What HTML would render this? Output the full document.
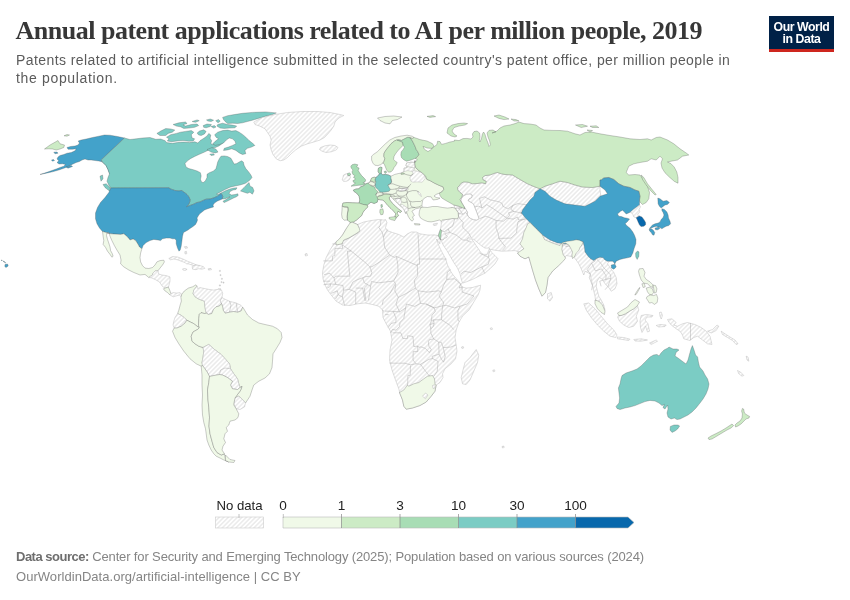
<!DOCTYPE html>
<html lang="en"><head><meta charset="utf-8"><title>Annual patent applications related to AI per million people, 2019</title>
<style>
html,body{margin:0;padding:0;background:#fff}
body{width:850px;height:600px;position:relative;overflow:hidden;font-family:"Liberation Sans",sans-serif}
.title{position:absolute;left:15.5px;top:16px;font-family:"Liberation Serif",serif;font-weight:700;font-size:26px;line-height:30px;color:#373737;white-space:nowrap;letter-spacing:-0.49px}
.sub{position:absolute;left:16px;top:52px;font-size:14px;line-height:17.5px;color:#5b5b5b;white-space:nowrap;letter-spacing:0.425px}
.logo{position:absolute;left:769px;top:16px;width:65px;height:33px;background:#002147;border-bottom:3px solid #ce261e;color:#fff;font-weight:700;font-size:12.3px;line-height:12px;text-align:center;letter-spacing:-0.45px}
.logo span{display:block}
.logo .a{padding-top:4.5px}
.foot{position:absolute;left:16px;font-size:13px;color:#858585;white-space:nowrap;line-height:16px}
.f1{letter-spacing:-0.14px}
.f1 b{letter-spacing:-0.5px}
.foot b{color:#6e6e6e;font-weight:700}
.lg{position:absolute;font-size:13.6px;color:#222;line-height:14px;white-space:nowrap;transform:translateX(-50%)}
svg{position:absolute;left:0;top:0}
</style></head><body>
<div class="title">Annual patent applications related to AI per million people, 2019</div>
<div class="sub">Patents related to artificial intelligence submitted in the selected country's patent office, per million people in<br><span style="letter-spacing:0.66px">the population.</span></div>
<div class="logo"><span class="a">Our World</span><span>in Data</span></div>
<svg width="850" height="600" viewBox="0 0 850 600">
<defs><pattern id="hatch" patternUnits="userSpaceOnUse" width="3.2" height="3.2" patternTransform="rotate(-45 2 2)"><rect width="3.2" height="3.2" fill="#fff"/><path d="M-1 1.6l6 0" stroke="#ccc" stroke-width="0.6"/></pattern></defs>
<g stroke="#555" stroke-opacity="0.75" stroke-width="0.4" stroke-linejoin="round">
<path fill="url(#hatch)" stroke="#adadad" stroke-opacity="1" d="M352 222L357.5 224.5L363.8 222L371.2 220.5L378.8 219.5L383.8 220L385.5 219.5L387 222.5L385.5 227.5L387 230.5L392.5 232.5L398.8 234.5L403.8 237L407.5 233.8L411.2 232L416.2 232L420 233.8L427.5 235L433.8 235L433.8 234.8L438.4 235.6L440.4 239.8L439.8 243.8L437.5 240.6L436.5 239L438.8 245.6L441.9 251.9L445.6 258.8L447.5 265L450.6 271.2L453.1 275L457.5 280L460.6 283.8L461.9 286.9L466.2 288.1L472.5 287.5L476.9 286.2L480.6 285.2L480 290L478.1 295L475 300L469 310L462.5 316.2L458.8 322.5L456.2 330L455 337.5L456.2 345L457 351.2L455.5 358.8L451.2 363.8L445 368.8L442.5 373.8L443 377.5L440 382.5L436.2 385L435 391.2L431.2 396.2L426.2 402L420 405.5L412.5 408L406.2 409.2L403.8 406.2L402.5 400L400 393.8L398.8 388.8L395.5 380L392 370L389.5 360L390 350L392 340L390.5 331.2L386.2 323.8L383 317.5L382.5 310L383.8 311.2L381.2 308.8L378.8 306.2L372.5 304.5L365 303L357.5 303.8L350 305.5L342.5 305L336.2 301.2L331.2 295L327.5 290L325 285L323 278.8L322.5 272.5L323.8 265L326.2 257.5L330 250L333.8 243.8L338.8 240L342.5 235L346.2 228.8L350 223.8Z"/>
<path fill="url(#hatch)" stroke="#adadad" stroke-opacity="1" d="M441.2 221.2L441.2 225L440.4 229.4L439.1 233.1L438.4 235.6L440.4 239.8L440.9 239.5L443.1 245L446.9 250.6L450.6 256.9L453.8 262.5L457.5 268.1L460 273.8L461.2 278.8L462.5 283.1L466.2 281.9L472.5 279.4L478.8 276.2L485 273.1L490 268.8L495 263.8L498.1 258.8L495 255.6L491.2 251.9L489.4 248.8L488.1 251.9L486.9 254.4L483.8 254.4L481.2 253.1L478.8 249.4L476.2 245.6L473.8 241.9L471.5 238.8L473.8 239.4L477.5 242.5L481.2 245.6L485 248.1L488.8 248.1L490.6 249.4L493.8 250L501.2 251.2L507.5 251L515 250.6L518.8 251.9L517.5 253L520 256.2L525 258.8L528.8 257L530 261.2L532.5 270L535.5 280L538.8 288.8L542 296.2L545.5 292.5L547 285L548 277.5L552.5 271.2L558.8 265.5L563.8 260L566.2 255.5L570 256.2L573.8 257L576.2 260L578.8 263.8L581.2 268.8L583.8 275L585 271.2L590 273.8L591.2 278.8L592.5 285L593.8 291.2L595 296.2L595.5 300L597.5 305L600 310L603.8 313.8L605 310L603.8 305L601.2 300L598.8 296.2L597.5 291.2L596.2 286.2L597 281.2L599.5 277.5L602.5 279.5L605 283.8L608.8 287.5L611.2 291.2L615 288.8L617 283.8L616.2 277.5L613.8 272.5L610 267.5L607.5 263.8L610 260L600 190L600 186.2L592.5 187.5L582.5 187L575 185L567.5 182.5L560 181.2L552.5 183.8L545 186.2L540 188.8L535 187L527.5 183.8L520 179.5L512.5 175L505 174.5L501.2 173.8L497.5 172.5L495 173.1L490 175L485 175.6L482.5 177.5L483.1 180L486.2 181.2L485.6 183.8L481.9 182.8L477.5 183.5L472.5 183.8L468.1 182.2L463.8 181.9L461.2 183.1L459.4 185.6L457.5 187.5L457.8 190L460 192.5L462.5 194.4L465 208.5L462.5 207.8L458.1 206L453.8 205L455 208.1L458.1 212.5L458.5 216.9L457.5 218.8L452.5 218.5L447.5 219.4L442.5 220L441.2 221.2Z"/>
</g>
<g stroke="#a6a6a6" stroke-width="0.45" fill="none" stroke-linejoin="round">
<path d="M381 219.6L380.3 225.4L378.8 227.5L382.2 232.3L383.5 237.3L385.2 233.4L387.7 229.4"/>
<path d="M383.5 237.3L384.6 247.1L389.6 255L394.6 257.4L396.4 256.4L417.3 265.6L417.3 264.3L419.6 264.3L419.4 259"/>
<path d="M418 233.6L419.4 259L446.6 259"/>
<path d="M389.6 255L379.4 262.2L371.9 266.7L369.8 266.9L364.9 262.2L351.3 251.1L342.5 245"/>
<path d="M342.6 243.9L342.6 241.3L354.2 235.2L359.3 231.8L357.4 224.4"/>
<path d="M342.6 243.9L332.4 243.9"/>
<path d="M342.5 245L342.5 248.4L335 248.4L334.8 255.3L332.5 256.4L332.4 260.9L323.3 260.9"/>
<path d="M351.3 251.1L347.4 251.1L349.5 273.6L350 276.2L335.6 276.2L334 278.1L329.9 273.3L324.1 274.6"/>
<path d="M369.8 266.9L371.9 272.5L370.5 276.2L365.2 276.7L362.7 277.8L357.6 279.6L352.9 282L349.4 289.4L343.6 290.2L342.9 285.5L335.8 284.4L334 278.1"/>
<path d="M396.4 256.4L397.8 264.3L398 272.8L393.7 281L385.4 282L378.4 282.8L371.5 281.5L370.6 286.3L367.8 284.7L364.3 282.8L362.7 277.8"/>
<path d="M417.3 265.6L417.7 275.7L414.3 280.2L415.4 288.1L406.4 293.4L398.3 297.4L394.8 290.8L395.8 284.1L393.7 281"/>
<path d="M395.1 284.1L390.1 293.4L383.2 300L382.3 304.8"/>
<path d="M415.4 288.1L418 290.8L427.3 292.1L438.9 290.8L441.3 292.1L443.4 285.5L446.7 279.4L447.3 272.2L450.8 269.6"/>
<path d="M446.7 279.4L454.8 278.8L460.5 284.1L462.1 283.6"/>
<path d="M462 286.8L462.2 292.1L474 296L467.2 304L460.2 306.1L454.4 307.9L446.2 305.3L442.7 305.8L441.6 314.6L441.6 319.8L450.2 325.4L453.7 329.6"/>
<path d="M460.2 306.1L457.9 310.6L458 319.8L459.1 321.7"/>
<path d="M441.3 292.1L439 296L443.8 302.9L442.7 305.8"/>
<path d="M418 290.8L420.5 303.4"/>
<path d="M426.1 304L434.1 307.9L442.7 305.8"/>
<path d="M390.6 332.8L392.5 329.4L396 330.2L399.5 326.5L400 322.5L403.8 318.5L405.6 307.9L406.5 304L414.7 306.4L420.5 303.4L426.1 304L434.1 307.9L435.3 311.6L432 315.1L431.3 320.9L429.9 324.6L430.8 328.8L430.8 333.1L433.7 338.9L429.5 339.7L428.3 341.8L428.9 346.3L431.3 349.5L429.4 352.6L425.3 348.4L421 346.8L418.9 347.4L417.7 346L413.8 346.6L413 336.5L407.6 335.7L407.4 338.4L402.9 338.6L400.9 332.8L392.5 332.8"/>
<path d="M389.4 363L394.5 363.2L404.8 363.2L410.5 364.8L416.1 363.8L413 360L413.2 351.6L417.8 351.6L417.7 346"/>
<path d="M410.5 365.6L410.2 375.4L407.9 375.4L407.7 382.8L407.3 392.3L400.5 392.6L399.4 392.8"/>
<path d="M420.5 364.3L425.7 371.4L429.4 375.9"/>
<path d="M416.1 363.8L420.5 364.3L429 359.3L432.5 358.5L438.1 361.4L437.2 371.4L433.7 376.4"/>
<path d="M432.5 358.5L432.1 356.3L439.1 354.2L438.7 342.1L433.7 338.9"/>
<path d="M438.7 342.1L441.3 342.3L443.2 347.6L445.2 356.6L443.6 362.2L441.6 359.5L439.1 354.2"/>
<path d="M443.2 347.6L450.5 347.1L456.1 345"/>
<path d="M441.6 319.8L433.4 319.8L434.1 323.3L433.4 326.5L430.8 328.8"/>
<path d="M433.4 319.8L431.3 320.9"/>
<path d="M434.1 323.3L429.9 324.6"/>
<path d="M385.1 311.1L393.3 311.4L399.6 311.9L405.6 307.9"/>
<path d="M398.3 297.4L396 304L399.6 311.9"/>
<path d="M393.3 311.4L396.1 318.5L395.8 322.5L391.4 323.3L388.1 327.5"/>
<path d="M385.1 314.6L388.6 314.6"/>
<path d="M355.7 304L355.7 292.1L349.4 289.4"/>
<path d="M365 301.1L362.7 288.1L355.7 288.1"/>
<path d="M368.5 300.3L370.6 286.3"/>
<path d="M365.9 300.8L364.3 288.1L367.8 284.7"/>
<path d="M344.7 305.6L342.4 297.1L343.6 290.2"/>
<path d="M335.4 299L338.2 294.7L342.4 297.1"/>
<path d="M331.2 293.4L337.3 290.8L338.2 294.7"/>
<path d="M327.4 288.1L330.4 286.3L330.4 283.9L335.8 284.4"/>
<path d="M323.5 284.7L330.4 283.9"/>
<path d="M323.3 281.2L330.2 281.2"/>
<path d="M462.5 286.8L459.3 288.1L460.5 284.1"/>
<path d="M454.7 219.1L452.7 226.2L448.2 228.9L449.5 232.3L444.7 233.9L447.3 236.5L446.3 237.9L444.5 238.1L443.1 240L440.8 239.4"/>
<path d="M448.2 228.9L444.1 231.8L441.7 230.7"/>
<path d="M449.5 232.3L456 234.9L462.7 240L466.8 240.2L469.6 241.8L471.2 241.8"/>
<path d="M466.8 240.2L468.1 237.9L469.9 237.9"/>
<path d="M459.9 218.8L463.2 222.5L462.6 227.3L468.7 233.1L471.2 237.9"/>
<path d="M459.9 218.8L457.2 213L462.8 214.3L465.7 212.5L468.3 215.7"/>
<path d="M450.8 207.5L455.3 208.6L458.4 208L461.3 206.7L461.5 208.6L458.4 208"/>
<path d="M461.3 206.7L464.7 208.3L465.8 206.7"/>
<path d="M455.3 208.6L456.2 211.2L457.2 213"/>
<path d="M458.4 208L459.9 209.9L462.8 214.3"/>
<path d="M479.7 218.6L485.9 216.2L490.7 218L496 220.4L496.1 228.1L498.3 233.9L498.9 238.4L504.1 245.3L505.5 246.8L502.2 250.5"/>
<path d="M498.9 238.4L511 238.1L516.6 232.8L517 227.5L518 221.7L525.5 218.8"/>
<path d="M496 220.4L503.4 221.2L507.1 218.3L513.4 219.1L517.6 217L518.7 220.1L525.5 218.8"/>
<path d="M475.2 206.7L478.9 206.2L481.9 208L486.6 204.6L492.7 208.3L507.1 218.3"/>
<path d="M481.9 208L479.5 198.4L484.4 196.8L490.4 199.9L499.1 201.8L502.2 203.6L502.8 206.2L507.8 208.8L512.9 205.4L517.8 203.6L532.8 205.7"/>
<path d="M507.1 218.3L509.6 215.4L508.5 212.8L514 211.4L521.1 213"/>
<path d="M514 211.4L510.8 209.4L512.9 205.4"/>
<path d="M461 273.8L464.1 271.2L470.6 272.5L481.7 266.9L488.4 264.3L489.5 259L488.2 257.2L479.7 253.2"/>
<path d="M481.7 266.9L484.7 273.3"/>
<path d="M488.2 257.2L489.5 251.3"/>
<path d="M591.7 263.2L587.1 269.6L590.5 274.1L589.3 277.5L592.4 285.5L591.7 290.2"/>
<path d="M591.7 263.2L595.4 270.9L601.5 268.8L606.2 275.9L605.7 279.4L599.7 281.2L601.1 286.3"/>
<path d="M595.5 258L600.7 263.2L603.7 267.7L610.5 274.9L610.9 278.3L607.8 286.5L605.1 289.7"/>
<path d="M605.7 279.4L610.9 278.3"/>
<path d="M591.7 263.2L595.1 261.1L595.5 258"/>
<path d="M595.5 300.3L598 302.1L600.2 300.8"/>
<path d="M561.7 247.4L562.8 245L570 244.5L570.5 246.1L565.4 246.6"/>
</g>
<g stroke="#555" stroke-opacity="0.75" stroke-width="0.4" stroke-linejoin="round">
<path fill="#43a2ca" d="M124.5 138L117.5 136.5L110 135.2L104.5 135L98.8 136.2L92.5 137.5L86.2 139L81.2 140L78.2 141L79.5 143L78 145L75 146L70.5 146.5L67 147.5L68 149.2L72.5 149.2L76.2 148.8L75 150.8L71.2 152.5L67 153.2L63.8 154.5L60 155.5L58 157L57 159L58.8 160.8L57 162.5L59 164L62.5 163.8L65.5 164.5L63.8 166.2L60 167.5L56.2 169L51.2 170.8L46.2 172.5L40 174.5L46.2 173.2L52.5 171.8L58.8 170L64.5 168L68.8 166.2L72.5 164.2L76.2 162.5L79.5 161.5L82 160L85 159L88 160L91.2 160L95 160.5L98.8 161L102 161.8L105 163.8L107.5 166.5L109.2 170L111 173.2L109.5 173.8L108 169.5L106 165.5L103 162.5L101.2 160Z"/>
<path fill="#43a2ca" d="M51.5 160L53.5 159.5L54.5 160.5L52.5 161.2Z"/>
<path fill="#43a2ca" d="M53.8 152.2L57 152L58 153.2L55 153.8Z"/>
<path fill="#43a2ca" d="M66.2 167L71.2 165.5L72.5 166.5L68 168.2Z"/>
<path fill="#ccebc5" d="M44.5 149L50 145L58 140.5L60 143.8L64.5 145L63.8 147.5L60 149L56.2 150L52.5 149L48.8 148.8Z"/>
<path fill="#ccebc5" d="M64 135.8L67 134.5L69.5 135L67 136.2Z"/>
<path fill="#7bccc4" d="M124.5 138L130 139.5L136.2 138.8L142.5 138L150 137.5L155.8 139.3L160.7 139L165.2 140.7L166.5 142.6L172.3 143.3L177.2 142.6L183 142.1L189.6 142.6L194.9 141.8L197.9 143.1L200 140.7L204.2 138L207 136L208.8 133.4L210.8 135L210.1 138.3L211.7 140.7L210.8 143.5L212.7 144.6L216.4 143.3L220.2 141.3L223.5 139.3L224.6 140L222.6 143.3L219 145.9L215.2 147.6L211.4 148.3L207.8 150.4L204.5 152.1L199.5 154.2L194.6 156.5L190.4 158.7L187.1 161.1L185 163.6L186 166.9L188.8 168.6L193.3 169.7L197.1 171L200.4 172.7L201.2 176L200.5 179.3L201.5 181.9L203.2 182.6L205.3 180.9L207 177.6L207 174.3L209.4 172.7L213.6 171L216 168.6L216.9 165.3L217.7 162L219.3 158.7L221 156.2L224.3 155.9L227.6 156.5L230.9 158.2L232.5 161.1L234.2 164.1L236.7 163.6L239.2 162L241.6 160.8L243.3 162L244.1 165.3L245.8 168.6L248.7 171.9L251 175.2L252 177.6L249.9 180.1L246.6 182.6L245 183.5L240 185L235 186L230 187.2L225 189.5L220 192.2L216.5 194L218 194.5L222 192.5L226 190.5L230 189L234 188L237 187.8L236 189.5L233 190L230 191.5L229 193.5L231.5 195L235 194.5L237.8 193.8L238.2 195.5L236 197L234 197.8L230 199.8L226.5 201.6L224 202.6L223 201.2L225.5 199.8L228 198.2L230 196.8L228 197.5L225 198.7L222.2 199L222.8 196.2L221.2 193.5L217.5 196.2L214 197.8L210 199L206 199.2L203 200.5L200 202L197 202.5L194 204L190 205.5L186.5 206.8L188.5 204.5L189.8 202L190 199.5L189 197L187 194.5L184.5 192.5L181.5 190.5L179 191L175 190.5L172 189.5L169.5 188.5L169.2 187.8L110.8 188L108.8 185L107 181.2L108 177.5L109.5 173.8L108 169.5L106 165.5L103 162.5L101.2 160Z"/>
<path fill="#7bccc4" d="M156.9 133.4L160.7 131.1L165.7 128.6L170.6 128.9L174.8 130.1L172.3 132.2L168.2 133.4L165.7 135.5L159.9 135.5Z"/>
<path fill="#7bccc4" d="M166.5 137.2L170.6 134.7L176.4 133.4L180.5 132.2L185.5 131.4L191.3 130.6L193.8 132.2L191.3 134.7L192.1 138L194.6 138.8L193.3 141L188.8 141.3L183 140.5L177.2 141L171.5 141.7L167.3 141L169 138.8Z"/>
<path fill="#7bccc4" d="M173.1 124.5L178.9 122.8L185.5 122L187.1 123.5L183 124.8L185.5 126.1L191.3 124.5L197.1 124L198.7 125.6L194.6 127.3L188.8 128.1L183.8 128.4L180.5 126.8L176.4 126.1Z"/>
<path fill="#7bccc4" d="M192.1 121.5L197.1 119.9L199.2 120.7L195.4 122.3Z"/>
<path fill="#7bccc4" d="M197.1 133.1L199.5 131.1L203.7 129.8L206.1 131.4L204.5 133.9L201.2 135.5L198.7 135Z"/>
<path fill="#7bccc4" d="M203.2 125.6L207 124L211.4 124.5L210.3 126.5L206.1 127.8L203.7 127.3Z"/>
<path fill="#7bccc4" d="M211.1 126.5L214.4 125.6L216 127L213.6 128.1Z"/>
<path fill="#7bccc4" d="M206.5 119.9L210.3 119L213.6 120.2L211.1 121.5L207.8 121Z"/>
<path fill="#7bccc4" d="M215.7 120.7L218.5 119.5L220.2 121.2L218 122.8Z"/>
<path fill="#7bccc4" d="M217.7 124.5L222.6 123.2L227.6 124.5L232.5 125.1L236.7 126.1L235 127.8L229.2 128.1L224.3 128.4L220.2 128.1L216.9 126.1Z"/>
<path fill="#7bccc4" d="M222.6 117.4L227.6 115.7L234.2 114.6L242.5 113.3L252.4 112.4L265.6 111.9L276.3 112.9L272.2 114.6L265.6 116.2L259 118.2L252.4 120.2L247.4 121.5L242.5 122.8L237.5 123.5L232.5 123.2L227.6 123.5L225.1 121.5L223.5 119.5Z"/>
<path fill="#7bccc4" d="M214.7 134.7L217.7 132.2L222.6 130.6L227.6 130.1L231.7 131.1L235.9 130.6L239.2 132.2L242.5 134.4L245.8 137.2L249.1 140.5L253.2 143.8L254.8 145.4L251.5 147.1L247.4 148.3L244.9 150.4L245.8 153.7L242.5 154.5L239.2 152.9L235.9 150.4L231.7 148.8L227.6 149.9L223.5 150.4L224.3 148.3L228.4 147.1L232.5 145.4L235.9 143.8L235 141.3L232.5 138.8L229.2 138L226.3 140L223.5 143L219.3 144.6L215.2 145.4L212.7 143.8L215.2 141.3L218.5 138.8L216 137.2Z"/>
<path fill="#7bccc4" d="M207 149.6L211.9 147.6L216 149.2L218 152.1L215.2 152.9L211.1 152.1Z"/>
<path fill="#7bccc4" d="M209.8 154.2L213.6 153.7L214.4 155L211.1 155.5Z"/>
<path fill="#7bccc4" d="M240.5 190.9L244.1 187.5L247.4 183.9L249.1 182.6L249.9 185.9L252.7 187.5L254 190.9L252.4 194.2L249.9 192.2L247.4 193.3L244.1 192.2Z"/>
<path fill="#7bccc4" d="M103 184.5L106.2 183.8L110 187.5L111.2 192L108.8 190.5L105 187.5Z"/>
<path fill="#7bccc4" d="M100 176.2L102.5 175L103 178.8L101 181.2Z"/>
<path fill="#43a2ca" d="M110.8 188L169.2 187.8L169.5 188.5L172 189.5L175 190.5L179 191L181.5 190.5L184.5 192.5L187 194.5L189 197L190 199.5L189.8 202L188.5 204.5L186.5 206.8L190 205.5L194 204L197 202.5L200 202L203 200.5L206 199.2L210 199L214 197.8L217.5 196.2L221.2 193.5L222.8 196.2L222.2 199L220 200L217.5 201L214.5 203L213 205L213.5 207L210 208L207 209L204.5 210L202 212L199.5 214L198.5 215.5L197 218L197.5 220L196.8 222L195.5 224.5L193 226.5L190 228.5L188 230L183.5 232.5L182.5 236.2L181.9 241.2L181.2 246.2L180.2 250L179 251.2L177.5 248.1L176.2 243.8L176.2 240.6L175 238.8L172.5 238.8L170 238.1L166.2 238.1L162.5 238.8L160.6 240.6L158.1 240L153.8 239.4L150 240.6L146.2 242.5L143.1 245.6L141.9 248.8L141.9 248.8L139.4 246.9L138.1 244.4L135.6 240.6L133.1 239L130 240L127.5 236.9L123.8 233.8L120.6 234.4L110.6 233.8L102.5 231.5L99.5 228L97 223.8L95.5 218.8L95.5 213L97.5 207.5L100.5 202.5L105 197.5L108.8 192.5Z"/>
<path fill="#f0f9e8" d="M102.5 231.5L110.6 233.8L120.6 234.4L123.8 233.8L127.5 236.9L130 240L133.1 239L135.6 240.6L138.1 244.4L139.4 246.9L141.9 248.8L140.6 253.1L140 257.5L140.6 261.9L142.5 265.6L145 268.1L148.8 268.5L152.5 267.5L155 265L156.9 261.9L160 260.6L163.8 260.2L164.4 261.9L162.5 265L160 268.1L158.1 270.6L155 271L153.1 273.1L152.5 275L150.6 276.2L148.8 277.5L145 274.4L140 275L133.8 272.5L128.8 270L123.8 266.9L120.6 263.8L121 260L120 255L116.9 250L114.4 245.6L111.9 240.6L110 236.2L108.8 232.5L106.9 233.1L106.5 235.6L107.5 239.4L108.8 243.1L110 246.9L110.6 250.6L112.2 253.5L113.1 256.2L111.9 257.2L110 254.4L107.5 251.2L105.6 247.5L103.1 244.4L103.8 240.6L103.1 236.2Z"/>
<path fill="url(#hatch)" stroke="#adadad" stroke-opacity="1" d="M253.8 122L262.5 117.5L275 114.5L287.5 112.5L302.5 111.5L317.5 111.5L330 112.5L340 114.5L343.8 115.5L338.8 118L335 122L333.8 126.2L331.2 130L328 133.8L324.5 137.5L320 140L313.8 142L307.5 143.8L301.2 146.2L295.5 150L291.2 153.8L287.5 157.5L283.8 160L280 160.8L276.2 158.8L273 154.5L271.2 150L270 145L271.2 140L270 136.2L267.5 132.5L265 128.8L260 126.2L255 124.5Z"/>
<path fill="url(#hatch)" stroke="#adadad" stroke-opacity="1" d="M320.5 147.5L325 145.8L330 145L335 145.5L338 147.5L336.2 150L331.2 151.8L326.2 152.5L322 151.2L319.5 149.5Z"/>
<path fill="url(#hatch)" stroke="#adadad" stroke-opacity="1" d="M158.1 270.6L158.5 273.8L161.9 275L166.2 275.6L170 276.9L170 281.2L168.5 286.9L165 288.1L162.5 286.5L159.4 281.9L155 279.4L151.2 277.8L148.8 277.5L150.6 276.2L152.5 275L153.1 273.1L155 271Z"/>
<path fill="#f0f9e8" d="M165.1 288.1L168.4 287.1L169.7 290.1L170.9 293.5L169.7 294.8L167.6 292.6L165.1 291L163.4 288.8Z"/>
<path fill="url(#hatch)" stroke="#adadad" stroke-opacity="1" d="M170.9 293.5L173.4 292.6L176.8 293.1L180.1 292.6L181.8 294.3L180.9 296.5L179.3 295.1L175.9 296L173.4 296.8L170.9 295.5L169.7 294.8Z"/>
<path fill="url(#hatch)" stroke="#adadad" stroke-opacity="1" d="M168.8 258.5L172.5 256.6L177.5 257L182.5 258.8L187.5 261.2L192.5 263.2L196.2 264.8L200 266L198.8 267.2L195.6 266.5L192.5 265.2L188.8 264L186.2 263.8L185 262.5L181.2 261.2L177.5 259.8L173.8 259L170.6 259.8Z"/>
<path fill="url(#hatch)" stroke="#adadad" stroke-opacity="1" d="M192.1 266.4L195.1 265.1L199.3 265.4L203.5 266.7L204.8 268.4L201.8 269.2L198.5 268.7L196 269.7L192.6 269.2Z"/>
<path fill="url(#hatch)" stroke="#adadad" stroke-opacity="1" d="M182.6 268.9L185.1 268.4L187.1 269.4L185.1 270.4L183.1 270.1Z"/>
<path fill="url(#hatch)" stroke="#adadad" stroke-opacity="1" d="M208.2 268.7L211 268.4L211.5 269.7L208.5 270.1Z"/>
<path fill="url(#hatch)" stroke="#adadad" stroke-opacity="1" d="M184.3 246.7L186.8 246.4L187.6 248L185.4 248.4Z"/>
<path fill="url(#hatch)" stroke="#adadad" stroke-opacity="1" d="M184.8 251.7L186.4 251.4L186.8 253.7L185.1 254Z"/>
<path fill="url(#hatch)" stroke="#adadad" stroke-opacity="1" d="M218.2 288.8L220.5 288.5L220.9 290.5L218.5 290.8Z"/>
<path fill="url(#hatch)" stroke="#adadad" stroke-opacity="1" d="M219.4 270.4L220.4 270.4L220.4 271.4L219.4 271.4Z"/>
<path fill="url(#hatch)" stroke="#adadad" stroke-opacity="1" d="M220 274.6L221 274.6L221 275.6L220 275.6Z"/>
<path fill="url(#hatch)" stroke="#adadad" stroke-opacity="1" d="M221.4 278.3L222.4 278.3L222.4 279.3L221.4 279.3Z"/>
<path fill="url(#hatch)" stroke="#adadad" stroke-opacity="1" d="M221 281.6L222 281.6L222 282.6L221 282.6Z"/>
<path fill="url(#hatch)" stroke="#adadad" stroke-opacity="1" d="M223 282.1L224 282.1L224 283.1L223 283.1Z"/>
<path fill="url(#hatch)" stroke="#adadad" stroke-opacity="1" d="M219.4 284.9L220.4 284.9L220.4 286L219.4 286Z"/>
<path fill="#f0f9e8" d="M181.8 294.3L184.3 291L188.4 288.1L192.6 286.8L196 284.8L197.1 286L193.8 290.1L193.1 293.5L195.1 296.8L199.3 299.3L204.3 301L204.8 305.2L205.5 310.2L206.5 313.2L204.3 313.5L201 312.7L199.3 314.4L198.8 318.5L198.5 325.2L199.3 327.7L196.8 326L193.5 323.5L190.1 321.9L186.8 320.2L184.3 317.7L180.9 315.2L177.6 313.5L178.8 310.2L180.1 305.2L181.4 301L180.9 297.6Z"/>
<path fill="url(#hatch)" stroke="#adadad" stroke-opacity="1" d="M197.1 286L197.6 288.5L200.1 287.6L204.3 288.5L208.5 289.3L213.5 290.1L218.5 289.3L221.5 290.1L222.7 293.5L221.9 297.6L220.2 301L221.5 303.5L219.4 306L216 306.8L213.5 309.3L211.8 313.5L208.5 314.4L206.5 313.2L205.5 310.2L204.8 305.2L204.3 301L199.3 299.3L195.1 296.8L193.1 293.5L193.8 290.1Z"/>
<path fill="url(#hatch)" stroke="#adadad" stroke-opacity="1" d="M221.9 297.6L225.2 299.3L230.2 301.5L235.2 302.7L240.2 304.8L242.7 307.2L241.1 311L237.7 312.2L233.6 311.5L229.4 312.2L225.2 313.2L223.2 310.2L222.7 306.8L221.5 303.5L220.2 301Z"/>
<path fill="url(#hatch)" stroke="#adadad" stroke-opacity="1" d="M177.6 313.5L180.9 315.2L184.3 317.7L186.8 320.2L185 323L181.2 326.2L177 328L174.2 328L173 325L173.8 321.2L175 317.5Z"/>
<path fill="#f0f9e8" d="M174.2 328L177 328L181.2 326.2L185 323L186.8 320.2L190.1 321.9L193.5 323.5L196.8 326L199.3 327.7L197.5 329.5L193 332L191.2 336.2L192 341.2L195 343.8L198.8 346.2L203 347.5L203.8 351.2L203 357.5L202 362.5L202.5 365.5L201.2 366.2L196.2 363.8L190 358.8L183.8 351.2L178.8 343.8L175 337.5L172.5 331.2Z"/>
<path fill="#f0f9e8" d="M242.7 307.2L243.8 308.8L247.5 315L252.5 319.5L258.8 323L265 324.5L272.5 326.2L277.5 328.8L281.2 332.5L282 337.5L280 342.5L276.2 348.8L273 353.8L272.5 361.2L272 367.5L269.5 373.8L265 378L258.8 381.2L253.8 385L252 390L250 396.2L246.2 402L245.5 403L242.5 399.5L238.8 396.2L235 398L237.5 394.5L240.5 390.5L242 386.5L240 387.5L238.8 383.8L237.5 378.8L233.8 373.8L230.5 368.8L229.5 363.8L226.2 360L221.2 354.5L214.5 349.5L208.8 344.5L203 347.5L198.8 346.2L195 343.8L192 341.2L191.2 336.2L193 332L197.5 329.5L199.3 327.7L198.5 325.2L198.8 318.5L199.3 314.4L201 312.7L204.3 313.5L206.5 313.2L208.5 314.4L211.8 313.5L213.5 309.3L216 306.8L219.4 306L221.5 303.5L222.7 306.8L223.2 310.2L225.2 313.2L229.4 312.2L233.6 311.5L237.7 312.2L241.1 311Z"/>
<path fill="url(#hatch)" stroke="#adadad" stroke-opacity="1" d="M203 347.5L208.8 344.5L214.5 349.5L221.2 354.5L226.2 360L229.5 363.8L230.5 368.8L233.8 373.8L237.5 378.8L238.8 383.8L240 387.5L237.5 389.5L232.5 388.8L230.5 385L232.5 381.2L227.5 377.5L222.5 375L219.5 374.5L213.8 375.5L209.5 376.5L207.5 372.5L205 368.8L202.5 365.5L202 362.5L203 357.5L203.8 351.2Z"/>
<path fill="url(#hatch)" stroke="#adadad" stroke-opacity="1" d="M235 398L238.8 396.2L242.5 399.5L245.5 403L244.5 407L240 409.5L236.2 408.8L233.8 403.8Z"/>
<path fill="#f0f9e8" d="M201.2 366.2L202.5 365.5L205 368.8L207.5 372.5L209.5 376.5L208.8 382.5L207.5 390L208 400L208.8 407.5L209.5 417.5L209 426.2L210 433.8L212 441.2L213.8 447.5L217 452.5L221.2 455L224.5 454L225.5 460.5L228.8 462L223.8 460L220 458L216.2 456.2L213.8 453.8L211.2 450L208.8 445L207 440L206.2 433.8L205.5 428.8L203.8 422.5L202.5 415L202 405L202.5 395L202 385L202 375Z"/>
<path fill="#f0f9e8" d="M209.5 376.5L213.8 375.5L219.5 374.5L222.5 375L227.5 377.5L232.5 381.2L230.5 385L232.5 388.8L237.5 389.5L240 387.5L242 386.5L240.5 390.5L237.5 394.5L235 398L233.8 403.8L233.8 405L236.2 408.8L238.8 413.8L238 417.5L235 420L230 421.2L228.8 425L226.2 427.5L227.5 431.2L225 433.8L223.8 438.8L225.5 442.5L223 446.2L222 450L224.5 453.8L221.2 455L217 452.5L213.8 447.5L212 441.2L210 433.8L209 426.2L209.5 417.5L208.8 407.5L208 400L207.5 390L208.8 382.5Z"/>
<path fill="#f0f9e8" d="M225.5 455L230 459.5L235 460.5L233.8 462.5L228.8 462L225.5 460.5Z"/>
<path fill="#f0f9e8" d="M414.8 162.5L411 162.2L406.6 163.1L406 165.6L407.2 166.9L405.4 168.1L404.1 168.1L404.1 171.5L401 173.1L398.5 173.5L394.8 174.4L391 176.2L388.5 175L385.4 174.4L382.5 174.8L381.2 173.1L381.6 170L382 167.5L380.4 167.2L378.5 168.1L378.2 169.8L378.2 171.9L379.5 173.8L377.9 176L375.8 177.5L374.1 177.2L371.6 178.1L370.4 181L368.8 182.8L366 183.8L362.9 186.2L360.4 186.9L359.1 188.8L356 189L353.5 190L354.1 191.5L356.6 193.1L359.1 196.2L359.8 200L359.1 203.1L352.2 202.8L347.2 202.5L342.9 203.1L342.2 206.2L342 210L341.6 214.4L342.2 218.1L344.1 220.2L347.5 220L349.1 221.6L350.8 222.5L353.5 221.9L356.6 220L359.1 217.8L361.6 215.6L362.9 212.5L364.8 209.8L367.9 206.9L367.2 205.2L368.8 203.8L371 202.2L374.1 203.5L377.2 202.2L377.9 199.4L380.4 199.8L382.9 200L385.4 202.5L387.9 205.6L391 208.5L393.5 211L395.8 213.8L395 216.2L395.4 218.8L396.6 217.5L398.5 215.6L397.2 213.5L397.9 211.2L400.4 212.5L401.6 211.2L398.5 209L395.4 206.2L392.2 203.1L389.8 200L389.1 197.5L391 196L391.6 197.5L392.9 198.8L394.8 200.6L397.2 203.1L399.8 205.6L402.2 207.5L404.1 209.4L404.8 211.9L406 213.8L406 210L406.9 213.1L408.1 216.2L410 219.4L412.2 221.2L413.5 219.4L412.5 216.9L414.4 215.6L413.1 213.1L411.9 211.2L413.8 210L415.6 208.8L418.8 208.1L421.2 207.5L420 209.4L419.4 211.2L419 215L420.6 218.1L423.8 220L427.5 221.5L431.2 221.9L435 221.2L439.4 220L441.2 221.2L442.5 220L447.5 219.4L452.5 218.5L457.5 218.8L458.5 216.9L458.1 212.5L455 208.1L452.5 207.5L447.5 208.1L442.5 207.5L437.5 206.5L432.5 206.5L427.5 207.5L422.8 207.2L421.9 206.2L422.2 203.1L422.8 200L424.4 198.1L427.5 196.5L431.2 196.9L433.1 200L437.5 199.4L440 198.1L436.2 197.5L434 196L436.2 194.4L439.4 193.1L441.9 191.9L443.8 189.4L443.1 186.9L438.8 185.2L434.4 183.1L430 180.6L426.9 179.4L425.6 176.2L422.5 173.1L418.8 170.6L415.6 167.5L414.8 163.8L415 160.6Z"/>
<path fill="#f0f9e8" d="M414.1 137.5L412.2 136.2L407.2 135.2L401 136L394.8 137.5L389.8 140L385.4 143.8L381 148.1L377.2 151.9L373.5 154.4L371.6 156.2L371.6 160L372.9 163.1L374.8 165.2L377.9 165.6L380.4 164.8L382.9 163.1L384.1 161.2L384.8 158.5L383.8 156.2L384.1 153.1L386 150L388.5 146.9L391 143.8L394.1 141.2L396.6 140L398.5 139.8L401.6 140.4L404.1 139.1L406 138.1L407.9 137.2L409.8 137.5L412.2 138.5Z"/>
<path fill="#ccebc5" d="M382.9 163.1L384.1 161.2L384.8 158.5L383.8 156.2L384.1 153.1L386 150L388.5 146.9L391 143.8L394.1 141.2L396.6 140L397.2 140.2L400 141L402.5 142.2L403.2 145.2L402.9 145.6L401 147.5L398.5 150L396 153.1L394.1 156.2L393.5 159.4L395.4 161.2L397.2 162.5L396 165L394.1 167.5L392.9 170L391 171.9L388.5 172.2L386.6 170L385.4 166.9L384.1 163.8Z"/>
<path fill="#a8ddb5" d="M407.9 137.2L410.4 138.1L412.2 140.6L413.5 143.1L415 146.2L416.2 149.4L417.9 151.9L419.1 154.8L416 158.1L411 160L406.6 161.2L404.1 160L401.6 157.8L400.8 155L401.2 151.9L403.2 149.4L404.5 147.2L403.2 145.2L402.5 142.2L400 141L397.2 140.2L398.5 139.8L401.6 140.4L404.1 139.1L406 138.1Z"/>
<path fill="#f0f9e8" d="M377.5 118L385 116.5L393.8 116L402 117L397.5 119.5L392.5 120.5L390 123.8L385 123L380 120.5Z"/>
<path fill="#a8ddb5" d="M352 164.8L354.8 164L357.9 164.8L356.6 166.9L359.1 168.1L358.2 170.6L359.8 173.1L361.6 175.6L364.1 178.1L365.8 180L365 181.9L362.9 182.8L365.4 183.8L362.9 185L359.1 185.2L356 185.6L352.9 186L351 186.2L353.5 184.4L355.4 183.1L353.5 182.2L352.9 180.6L354.8 180L355 178.1L353.5 177.5L354.8 175.6L352.9 174.4L352 171.9L352.9 170L351.2 168.1L350.8 166.2Z"/>
<path fill="url(#hatch)" stroke="#adadad" stroke-opacity="1" d="M343.5 175L346 173.8L347.5 173.8L347.9 175.6L350 175.6L350.4 177.5L349.1 180L346.6 181.2L343.8 181.5L342.2 180L342.9 177.5Z"/>
<path fill="#a8ddb5" d="M347.5 173.5L349.5 172.9L350.8 174L350 175.6L347.9 175.6Z"/>
<path fill="#a8ddb5" d="M378.5 168.1L380.4 167.2L382 167.5L381.6 170L381.2 173.1L379.5 173.8L378.2 171.9L378.2 169.8Z"/>
<path fill="#a8ddb5" d="M384.1 171.5L386 171L386.6 172.5L385 173.5Z"/>
<path fill="#7bccc4" d="M375.8 177.5L377.9 176L379.5 173.8L381.2 173.1L382.5 174.8L385.4 174.4L388.5 175L390.8 176.2L391 178.8L391.6 181.9L390.4 183.8L387.9 185L389.1 187.5L390.4 189.4L389.1 191.2L386 191.9L382.5 192.2L379.8 191.9L378.5 190L375.8 187.5L375 185L375.8 181.9L374.8 180Z"/>
<path fill="#ccebc5" d="M371.6 178.1L374.1 177.2L375.8 177.5L374.8 180L375.8 181.9L373.5 182.2L372.2 181.2L370.4 181Z"/>
<path fill="#a8ddb5" d="M353.2 190.2L356 189L359.1 188.8L360.4 186.9L362.9 186.2L366 183.8L368.2 183.1L369.8 185L372.2 186.2L374.5 186.9L375.4 189.4L377.9 191.9L376.6 193.1L375.8 195L377.2 196.9L377.9 199.4L377.2 202.2L374.1 203.5L371 202.2L368.8 203.8L367.2 205.2L362.9 204.4L359.1 203.1L359.8 200L359.1 196.2L356.6 193.1L354.1 191.5Z"/>
<path fill="#a8ddb5" d="M380.8 204.8L382.2 204.4L382.5 206.9L381.2 207.8Z"/>
<path fill="#ccebc5" d="M342.9 203.1L347.2 202.5L352.2 202.8L359.1 203.1L362.9 204.4L367.2 205.2L367.9 206.9L364.8 209.8L362.9 212.5L361.6 215.6L359.1 217.8L356.6 220L353.5 221.9L350.8 222.5L349.1 221.6L347.5 220L347.2 216.9L347.5 213.1L348.2 210L347.9 207.2L344.1 206.9L342.2 206.2Z"/>
<path fill="#ccebc5" d="M377.2 196.9L379.1 195.6L382.9 194.8L386 194L389.8 194.4L391 196L389.1 197.5L389.8 200L392.2 203.1L395.4 206.2L398.5 209L401.6 211.2L400.4 212.5L397.9 211.2L397.2 213.5L398.5 215.6L396.6 217.5L395.4 218.8L395 216.2L395.8 213.8L393.5 211L391 208.5L387.9 205.6L385.4 202.5L382.9 200L380.4 199.8L377.9 199.4Z"/>
<path fill="#ccebc5" d="M380 209.4L382.9 208.8L383.5 211.9L382.9 214.4L380.8 214.8L379.8 212.2Z"/>
<path fill="#ccebc5" d="M389.1 217.5L392.2 216.9L396 216.5L395.8 218.8L394.8 220.6L391.6 219.8L389.1 218.8Z"/>
<path fill="url(#hatch)" stroke="#adadad" stroke-opacity="1" d="M406.6 163.1L411 162.2L414.8 162.5L414.5 168.1L408.5 166.9L406 165.6Z"/>
<path fill="url(#hatch)" stroke="#adadad" stroke-opacity="1" d="M404.1 168.1L405.4 168.1L408.5 166.9L414.5 168.1L414.1 170.6L412.2 171.5L407.9 170.6L404.1 171.5Z"/>
<path fill="url(#hatch)" stroke="#adadad" stroke-opacity="1" d="M411 175.6L413.2 173.8L412.2 171.5L414.1 170.6L418.5 171.5L422.2 172.5L424.1 175L425.4 178.1L423.5 180.6L422.2 182.2L417.2 181.9L412.9 182.2L410.8 181.2L409.8 177.5Z"/>
<path fill="url(#hatch)" stroke="#adadad" stroke-opacity="1" d="M418.8 191.9L420.6 193.8L421.5 196.5L420 195.6L418.5 193.8L417.5 191.5Z"/>
<path fill="url(#hatch)" stroke="#adadad" stroke-opacity="1" d="M395 198.8L397.9 198.1L401 199L401.6 201.9L400.4 205L398.5 203.8L396.6 201.5Z"/>
<path fill="url(#hatch)" stroke="#adadad" stroke-opacity="1" d="M400.4 205L402.2 204.4L404.1 205.6L406 206.9L407.9 208.1L408.5 210.6L406 211.9L404.8 211.9L404.1 209.4L402.2 207.5Z"/>
<path fill="url(#hatch)" stroke="#adadad" stroke-opacity="1" d="M397.9 189.6L400 188.5L404.2 187.9L407.9 187.9L408.3 189.6L405 190.8L401.7 191.2L398.8 191Z"/>
<path fill="#f0f9e8" d="M414.4 223.5L420 224L419.8 225L414.8 224.8Z"/>
<path fill="url(#hatch)" stroke="#adadad" stroke-opacity="1" d="M433.1 224L437.5 223.2L436.5 225.2L433.8 225.5Z"/>
<path fill="#f0f9e8" d="M352 222L357.5 224.5L359.5 228.8L359.8 230.5L358 232.5L353.8 235L348.8 238L343.8 240L342 243.8L336 245L336 241.8L338.8 239.5L342.5 235L346.2 228.8L349.8 223.2Z"/>
<path fill="#f0f9e8" d="M399.5 392.5L403.8 390L407.5 385L408.8 386.2L413.8 383.8L418.8 382.5L423.8 378.8L427.5 376.2L432.5 375.5L434.5 378.8L435 383.8L436.2 385L435 391.2L431.2 396.2L426.2 402L420 405.5L412.5 408L406.2 409.2L403.8 406.2L402.5 400L400 393.8Z"/>
<path fill="url(#hatch)" stroke="#adadad" stroke-opacity="1" d="M422.5 396.2L425.5 393L428 395L425.5 398.8Z"/>
<path fill="url(#hatch)" stroke="#adadad" stroke-opacity="1" d="M432.5 385.5L434.8 384.5L435.2 388L433 388.5Z"/>
<path fill="url(#hatch)" stroke="#adadad" stroke-opacity="1" d="M476.2 349.5L478.8 355L477.5 362.5L473.8 371.2L470 380L466.2 384.5L462.5 383.8L461.2 377.5L463 370L465 362.5L470 357.5L473.8 352.5Z"/>
<path fill="url(#hatch)" stroke="#adadad" stroke-opacity="1" d="M492.8 370.2L494.5 369.8L495 371.2L493.2 371.8Z"/>
<path fill="url(#hatch)" stroke="#adadad" stroke-opacity="1" d="M461.5 347L463.2 346.5L463.8 348L462 348.5Z"/>
<path fill="url(#hatch)" stroke="#adadad" stroke-opacity="1" d="M490.2 328.2L492 327.8L492.5 329.2L490.8 329.8Z"/>
<path fill="url(#hatch)" stroke="#adadad" stroke-opacity="1" d="M502 446.5L503.8 446L504.2 447.5L502.5 448Z"/>
<path fill="url(#hatch)" stroke="#adadad" stroke-opacity="1" d="M305 254L307 253.5L307.5 255.5L305.5 256Z"/>
<path fill="#fff" d="M463.8 195.7L466.7 194.2L470.1 194L472.2 195L471.7 197.5L469.2 198.8L468 200.5L469.7 201.7L472.2 203L473.8 204.6L474.7 207.1L475.9 210.1L477.2 213.4L478.4 216.7L479.1 218.8L476.8 220.1L473.4 219.7L470.5 218.4L468.4 216.7L467.2 214.2L467.6 212.2L466.3 210.1L465.1 208.2L463.4 205.5L461.9 203L460.9 200.5L461.3 198.8L462.6 196.7Z"/>
<path fill="#ccebc5" d="M415 160.6L414.8 163.8L415.6 167.5L418.8 170.6L422.5 173.1L425.6 176.2L426.9 179.4L430 180.6L434.4 183.1L438.8 185.2L443.1 186.9L443.8 189.4L441.9 191.9L439.4 193.1L440 195.6L441.9 198.1L445 200L449.4 202.5L453.8 205L458.1 206L462.5 207.8L465 208.5L463.1 205L461.2 201.9L460 199.4L461.9 196.9L462.5 194.4L462.5 194.4L460 192.5L457.8 190L457.5 187.5L459.4 185.6L461.2 183.1L463.8 181.9L468.1 182.2L472.5 183.8L477.5 183.5L481.9 182.8L485.6 183.8L486.2 181.2L483.1 180L482.5 177.5L485 175.6L490 175L495 173.1L497.5 172.5L501.2 173.8L505 174.5L512.5 175L520 179.5L527.5 183.8L535 187L540 188.8L545 186.2L552.5 183.8L560 181.2L567.5 182.5L575 185L582.5 187L592.5 187.5L600 186.2L600 180L601.2 180L603.8 178L608.8 177.5L613.8 179.5L618.8 183.8L623.8 186.2L630 187.5L635 190L638.8 191.2L640 196.2L639.5 200L640 202L642.5 204.5L646.2 202.5L648.8 198.8L649.5 192.5L647.5 186.2L643.8 180L640 175L635 174.5L628.8 175L626.2 172.5L628.8 166.2L633.8 163.8L640 162.5L647.5 161.2L651.2 158.8L656.2 160L660 156.2L662.5 158.8L661 163L662 168L665 172.8L669.5 177.2L674.5 181.5L678 183.2L678 177.5L676.8 172L674.2 167L670.8 163.5L667.5 162L671.2 161.2L677.5 160L682.5 156.2L688.8 155L686.2 153L680 148.8L673.8 143.8L667.5 140L660 137L656.2 137.5L651.2 140L647.5 138.8L640 139.5L630 138.8L620 137L610 135.5L600 133.8L591.2 132L585 132.5L580 135L575 133.8L567.5 131.2L560 130.5L552 130.4L544 130L540 128L536 125L530 124L524 123.6L519 122L515 123.6L510 125L504 126L500 128L497 131L492 133L496 132L493 130L489 130.4L487 133L488 137L489.6 141L490.4 145L489 146.4L488 143L486.4 139L485 134.4L483.6 132L482.4 134L481.6 138L480 142L479.2 141L480 137L479.6 133L477 131L474 131.6L472.4 134L473 137L471 139L467 138.4L463 138.6L459 140.6L454.4 140L454.4 141.2L450 142L445.6 143.4L441.6 144.4L440 141.6L437.6 141.2L437 144.4L433.6 147.2L430.4 150L428 151.6L424.4 149.2L423 146.4L427 148L432 148.4L434 146L432.4 143.6L427 141L420 139.6L417.2 138.5L414.1 137.5L412.2 138.5L409.8 137.5L410.4 138.1L412.2 140.6L413.5 143.1L415 146.2L416.2 149.4L417.9 151.9L419.1 154.8L416 158.1L415.4 158.5L417.2 159.4L416.6 160.6L414.8 162.5Z"/>
<path fill="#ccebc5" d="M447 133L448 128L452 125L458 123.6L464 123L467.6 123.6L465 125L459 126L454 127.6L452 131L454 134L457 136L455 137L451 136Z"/>
<path fill="#ccebc5" d="M494 116L499 115L505 117L509 119L504 119.6L499 118.4Z"/>
<path fill="#ccebc5" d="M511 119L516 119.6L519 121L514 121Z"/>
<path fill="#ccebc5" d="M575.5 125L582.5 124.5L587.5 126.2L581.2 127.5Z"/>
<path fill="#ccebc5" d="M590 126.2L596.2 125.8L598.8 127.5L592.5 127.5Z"/>
<path fill="#ccebc5" d="M587 130L592.5 130.5L590 132Z"/>
<path fill="#ccebc5" d="M427 116.4L433 115.6L435.6 116.6L430 117.4Z"/>
<path fill="#ccebc5" d="M641.2 175L643.8 177.5L647.5 183.8L652.5 190L656.2 194.5L655 195L650.5 190.5L646.2 185L642.5 179.5Z"/>
<path fill="#ccebc5" d="M401 173.1L404.1 173.1L404.5 174L401.2 174.5Z"/>
<path fill="#43a2ca" d="M540 188.8L545 191.2L550 196.2L556.2 200L565 203.8L575 205L585 206.2L595 201.2L600 196.2L607.5 193.8L605 190L600 186.2L600 180L601.2 180L603.8 178L608.8 177.5L613.8 179.5L618.8 183.8L623.8 186.2L630 187.5L635 190L638.8 191.2L640 196.2L639.5 200L639.5 202.5L639.4 205L636.2 207.5L633.5 209.4L630.6 211.9L628.5 213L626.2 214L624.4 211.9L622.5 210.2L620.6 211.2L617.5 214L618.8 216.2L621.5 216.6L624.4 217.8L627.2 218.2L629.5 219L627.8 221.2L625.2 223.8L626.9 225.8L630 228.2L632.8 232L634.5 235.2L636 239.5L635.8 243.8L634 248.8L632.8 253.1L630.8 256.9L627.5 257.8L623.8 258.5L620 259.4L616.2 261.2L614.8 264L613.8 262.2L612.5 261.2L607.5 261.2L605 260L603.1 257.8L600 257.2L596.2 258.8L593.8 260.6L590.6 258.8L588.1 256.2L585 251.9L584.4 246.9L583.1 241.9L576.2 240L571.2 243L565 243.8L557.5 243L550 240L542.5 235L536.2 228.8L530 222.5L525 217.5L521.2 212.5L521.2 213.8L522.5 210L526.2 205L530 200L533.8 196.2L535 192.5Z"/>
<path fill="#43a2ca" d="M611.2 265L615 264.2L616.2 267L613.8 269.2L611.5 268Z"/>
<path fill="#7bccc4" d="M635.6 253.1L637.5 251L639 251.9L638.8 256.2L637.2 259.4L635.8 256.9Z"/>
<path fill="url(#hatch)" stroke="#adadad" stroke-opacity="1" d="M630.6 211.9L633.5 209.4L636.2 207.5L639.4 205L640.6 206.9L639 209.4L639.8 211.9L637.5 214.4L639.4 216L636.2 217.8L633.8 216.9L632.8 214.4Z"/>
<path fill="#0868ac" d="M636.2 217.8L639.4 216L641.9 216.9L643.8 219.4L645.6 222.5L645.6 224.8L643.8 226.2L641 226.6L639.4 224.8L638.1 221.9L637.2 219.8Z"/>
<path fill="#43a2ca" d="M657.8 198.1L660 198.8L663.1 201.2L666.9 200.6L669.4 202.5L667.5 204.4L665 205L662.5 206.9L661.2 208.1L659.4 206.2L658.1 203.8Z"/>
<path fill="#43a2ca" d="M661.9 208.8L664.4 209.4L666.9 211.9L668.1 215L668.5 218.1L670 221.2L670.6 223.8L668.8 225.6L666.2 226.2L663.8 227.5L661.9 228.8L660 227.5L658.1 226.9L656.2 226.2L653.8 226.9L651.2 228.1L649.4 229L650.6 226.9L652.5 225L655 223.8L658.1 223.1L660 221.9L661.2 219.4L663.1 217.5L664 215L663.1 212.5L661.9 210.6Z"/>
<path fill="#43a2ca" d="M649 229.4L651.2 228.8L653.1 230L654.8 232.5L654 235.2L652.5 234.8L651.2 232.5L649.8 231.2Z"/>
<path fill="#43a2ca" d="M655 228.1L658.8 227.2L659.8 228.5L657.8 229.8L655.6 229.8Z"/>
<path fill="#f0f9e8" d="M527.5 223.8L530 222.5L536.2 228.8L542.5 235L544.5 239.5L552.5 243L560 245.5L562.5 242.5L567.5 241.2L572.5 240.6L576.2 239.8L579.4 240.2L583.1 241.9L581.9 245L580 247.5L578.8 250.6L576.2 253.1L574.4 256.9L572.5 258.5L571.9 255L572.5 251.9L571.2 249.4L570.6 248.1L568.8 245L565.6 243.1L562.5 243.8L561.9 249.4L563.1 254.4L565.6 258.1L563.8 260.6L558.8 265.5L552.5 271.2L548 277.5L547 285L545.5 292.5L542 296.2L538.8 288.8L535.5 280L532.5 270L530 261.2L528.8 257L525 258.8L520 256.2L517.5 253L523.8 248.8L520 243.8L522.5 238.8L523.8 232.5L526.2 227.5Z"/>
<path fill="url(#hatch)" stroke="#adadad" stroke-opacity="1" d="M547.5 293.8L551.2 292.5L552.5 297.5L550 301.2L547.5 298.8Z"/>
<path fill="#a8ddb5" d="M440.4 229.4L441.5 230L441.2 233.8L440.8 237.5L440.4 239.8L439.4 237.5L438.4 235.6L439.1 233.1Z"/>
<path fill="#f0f9e8" d="M595 300L598.8 301.2L602.5 305L605 311.2L604.5 314.5L601.2 312.5L597.5 308.8L595 303.8Z"/>
<path fill="url(#hatch)" stroke="#adadad" stroke-opacity="1" d="M583.8 303.8L588.8 303L595 308.8L601.2 316.2L607.5 323.8L613.8 330L617 335L615.5 337.5L610 336.2L603.8 331.2L597.5 325L591.2 317.5L586.2 310Z"/>
<path fill="url(#hatch)" stroke="#adadad" stroke-opacity="1" d="M617 337L623.8 337.5L630 339.2L628.8 340.5L622.5 339.5L617.5 338.8Z"/>
<path fill="url(#hatch)" stroke="#adadad" stroke-opacity="1" d="M633.8 339.5L641.2 338.8L647.5 340L641.2 341.2L635 341Z"/>
<path fill="url(#hatch)" stroke="#adadad" stroke-opacity="1" d="M649.5 343L656.2 340L657.5 341.2L651.2 344.5Z"/>
<path fill="url(#hatch)" stroke="#adadad" stroke-opacity="1" d="M618.8 315.5L621.2 315.5L625.5 313.8L629.5 311.2L633.8 308.8L637.5 305.5L638.8 310L636.2 316.2L637.5 321.2L633.8 326.2L628.8 327.5L623.8 325L619.5 321.2L617.5 317Z"/>
<path fill="#f0f9e8" d="M617.5 313L622.5 310L627.5 307L631.2 302.5L635 299.5L639.5 302L637.5 305.5L633.8 308.8L629.5 311.2L625.5 313.8L621.2 315.5L618.8 315.5Z"/>
<path fill="url(#hatch)" stroke="#adadad" stroke-opacity="1" d="M641.2 315.5L646.2 314.5L653 315.5L652 317L647 317L645 320L648 323.8L649.5 331.2L647.5 332L645.5 326.2L643.8 329.5L642 332.5L640.5 327.5L640 321.2Z"/>
<path fill="url(#hatch)" stroke="#adadad" stroke-opacity="1" d="M659.5 312.5L661.2 312L662.5 315.5L661.2 319L660 316.2Z"/>
<path fill="url(#hatch)" stroke="#adadad" stroke-opacity="1" d="M656.2 325.5L660 324.5L666.2 325L665 326.5L658.8 327Z"/>
<path fill="url(#hatch)" stroke="#adadad" stroke-opacity="1" d="M667.5 319.5L672 318.8L676.2 322.5L673.8 325L677.5 326.2L682.5 323.8L687.5 322.5L695 324.5L701.2 327.5L706.2 331.2L710 336.2L712 344.5L707.5 343.8L702.5 340L697.5 336.2L693.8 337.5L690 340.5L683.8 338.8L682.5 335L680 331.2L676.2 328.8L671.2 325L668.8 322Z"/>
<path fill="url(#hatch)" stroke="#adadad" stroke-opacity="1" d="M707.5 331.2L712.5 329.5L717 325L718.8 326.2L716.2 330.5L711.2 333Z"/>
<path fill="url(#hatch)" stroke="#adadad" stroke-opacity="1" d="M721.2 331.2L725 333.8L730 337L735 340L738 343.8L736.2 344.5L732.5 340.5L727.5 337.5L722.5 334.5Z"/>
<path fill="url(#hatch)" stroke="#adadad" stroke-opacity="1" d="M746.2 356.2L748 357L748.8 361.2L747 360Z"/>
<path fill="url(#hatch)" stroke="#adadad" stroke-opacity="1" d="M737.5 370.5L740.5 372L743.8 375.5L742 376.2L738.8 373.8Z"/>
<path fill="#f0f9e8" d="M639.4 268.8L643.1 268.5L645 272.5L644 276.2L646.2 279.4L650 281.9L653.1 285L652.5 287.5L650 286.2L647.5 283.8L643.8 283.1L641.2 280L639.4 275L638.5 271.2Z"/>
<path fill="#f0f9e8" d="M641.9 283.8L644.4 283.5L645.2 286.9L643.1 287.5Z"/>
<path fill="#f0f9e8" d="M646.2 288.1L649.4 287.2L652.5 288.8L653.5 292.5L651.9 295L649.4 294.4L647.5 291.9Z"/>
<path fill="#f0f9e8" d="M653.1 285L655.6 285.6L656.9 288.8L656.2 292.5L654.4 293.1L653.8 289.4Z"/>
<path fill="#f0f9e8" d="M647.5 296.2L650.6 295L653.8 295.6L656.5 294.4L657.8 298.1L657.2 302.5L654.4 304.4L651.9 302.5L649.4 303.1L647.5 300L646.2 298.1Z"/>
<path fill="#f0f9e8" d="M634.8 295L636.5 291.9L639 288.1L640 287.5L638.5 290.6L636.2 294.4Z"/>
<path fill="#7bccc4" d="M692.4 345.6L694 350L695.6 355L697.6 357L698.4 362L699.6 367L703 371L705 375L707.6 379L709 384L708 389L706 394L703 399L700 403L696 408L692 412L688 415L684 417L680 419L677 419.6L674.4 418L671 419L668 417L667 413L668 409L667.6 405L665 409L663 407.6L664.4 404.4L662 405.6L659 403L655 401L650 400.4L645 401.6L640 403.6L635 405.6L630 407L625 408L620 409.6L617 408.4L616 406.4L619 403L619.6 398L619 393L618.4 388L620 384L621 379L622 375.6L626 373L632 371L637 369L641 366L644 363L647 360L650 357L653.6 355L657 354.4L659 356L661 353L664 350L668 348L669 347L673 349L677 349L679 350L676 352.4L675 356L678 358L682 361L686 364L688 360L689.6 354L691 349Z"/>
<path fill="#7bccc4" d="M670.4 426.4L674 425L678 425L679.6 426L677.6 429L675 431L672 432.4L670 430Z"/>
<path fill="#ccebc5" d="M742.4 408.4L743.6 409L744.4 413L747 415L749.6 416.4L749 418L746 419L744 421L741 424L738 426L735.6 427L735 425L737 423L740 421L742 418L742.4 414L741.6 411Z"/>
<path fill="#ccebc5" d="M732 424L733.6 425.6L731 428L727 430L722 433L717 436L712 439L709 439.6L708 438L711 436L716 433.6L721 431L726 428L729.6 425.6Z"/>
<path fill="#43a2ca" d="M5 264.5L7.5 264L8.2 266L6 267.5L4.8 266.5Z"/>
<path fill="#43a2ca" d="M1.2 260L2.2 260.2L2 261Z"/>
<path fill="#43a2ca" d="M3 261L4.5 261.5L4.3 262.3Z"/>
<path fill="#43a2ca" d="M4.6 262.3L5.6 262.6L5.4 263.2Z"/>
</g>
<g stroke="#a6a6a6" stroke-width="0.45" fill="none" stroke-linejoin="round">
<path d="M229.4 301L231 305.2L229.4 312.2"/>
<path d="M236.1 302.8L236.9 307.7L237.7 312.2"/>
<path d="M230.5 368.8L225 368L220.5 370L219.5 374.5"/>
<path d="M690.5 323L690.5 340"/>
</g>
<g stroke="#777" stroke-width="0.42" fill="none" stroke-linejoin="round">
<path d="M368.8 182.8L370.8 181.5L373.5 182.2L375.4 183.8L375 185.6L372.9 186L370.4 184.8"/>
<path d="M391 178.8L391.6 181.9L390.4 183.8L392.9 183.8L396 185L399.8 186.2L403.5 186.9L407.2 187.5L409.1 186.2L411 183.8"/>
<path d="M387.9 185L390.4 183.8"/>
<path d="M390.4 189.4L392.2 189.4L395.4 189L398.5 188.1L399.8 186.2"/>
<path d="M382.5 192.2L382.9 193.5L385.4 193.8L388.5 194L392.2 194.4L396 193.1L397.2 190.6L395.4 189"/>
<path d="M397.2 190.6L401 191.2L405.4 190.6L406.6 189L403.5 188.5L398.5 188.1"/>
<path d="M406.6 189L409.1 186.2"/>
<path d="M396 193.1L398.5 196L402.9 196.2L406.6 194.4L407.9 191.2L405.4 190.6"/>
<path d="M404.5 174L407.9 175L411 175.6L413.2 173.8"/>
<path d="M375.8 195L376.6 193.1L379.8 192.5L382.9 193.1L383.2 194.8L380.4 196L377.9 196.5"/>
<path d="M342.2 206.2L344.1 206.9L347.9 207.2L348.2 210L347.5 213.1L347.2 216.9L347.5 220"/>
<path d="M389.8 194.4L391.6 194.8L394.1 195.2L394.8 196.5L392.9 196.9L391 196"/>
<path d="M394.8 196.5L397.9 196L401 197.5L401 199L397.9 198.1L395 198.8L393.2 198.8"/>
<path d="M401 197.5L404.1 196.9L406.6 198.8L407.2 201.9L407.9 205L407.9 208.1"/>
<path d="M401.6 201.9L404.1 202.5L407.2 201.9"/>
<path d="M408.1 191.9L412.5 190.6L416.2 190.6L418.8 191.9"/>
<path d="M408.1 191.9L406.2 195L407.5 198.1L409.4 201L412.5 201.9L416.2 201.5L420.6 201.5L422.2 200"/>
<path d="M410.6 202.5L410.6 205L411.9 206.9L415 207.5L418.8 206.9L421.5 205.6"/>
<path d="M409.4 201L410.6 202.5"/>
<path d="M415 207.5L411.2 207.8L407.5 209"/>
<path d="M421.2 207.5L422.8 207.2"/>
</g>
<g>
<rect x="215.5" y="517" width="48" height="11" fill="url(#hatch)" stroke="#ccc" stroke-width="0.6"/>
<rect x="283" y="517" width="58.5" height="11" fill="#f0f9e8"/>
<rect x="341.5" y="517" width="58.5" height="11" fill="#ccebc5"/>
<rect x="400" y="517" width="58.5" height="11" fill="#a8ddb5"/>
<rect x="458.5" y="517" width="58.5" height="11" fill="#7bccc4"/>
<rect x="517" y="517" width="58.5" height="11" fill="#43a2ca"/>
<path d="M575.5 517h52.5l6 5.5l-6 5.5h-52.5z" fill="#0868ac"/>
<path d="M283 517h345l6 5.5l-6 5.5h-345z" fill="none" stroke="#bbb" stroke-width="0.6"/>
<path d="M341.5 514v14" stroke="#888" stroke-width="0.7"/>
<path d="M400 514v14" stroke="#888" stroke-width="0.7"/>
<path d="M458.5 514v14" stroke="#888" stroke-width="0.7"/>
<path d="M517 514v14" stroke="#888" stroke-width="0.7"/>
<path d="M575.5 514v14" stroke="#888" stroke-width="0.7"/>
<path d="M283.3 514v4" stroke="#aaa" stroke-width="0.7"/>
<path d="M239 514v4" stroke="#aaa" stroke-width="0.7"/>
</g></svg>
<div class="lg" style="left:239.5px;top:499px;font-size:13.2px">No data</div>
<div class="lg" style="left:283px;top:499px">0</div>
<div class="lg" style="left:341.5px;top:499px">1</div>
<div class="lg" style="left:400px;top:499px">3</div>
<div class="lg" style="left:458.5px;top:499px">10</div>
<div class="lg" style="left:517px;top:499px">30</div>
<div class="lg" style="left:575.5px;top:499px">100</div>
<div class="foot f1" style="top:548.5px"><b>Data source:</b> Center for Security and Emerging Technology (2025); Population based on various sources (2024)</div>
<div class="foot" style="top:569px;letter-spacing:0.04px">OurWorldinData.org/artificial-intelligence | CC BY</div>
</body></html>
